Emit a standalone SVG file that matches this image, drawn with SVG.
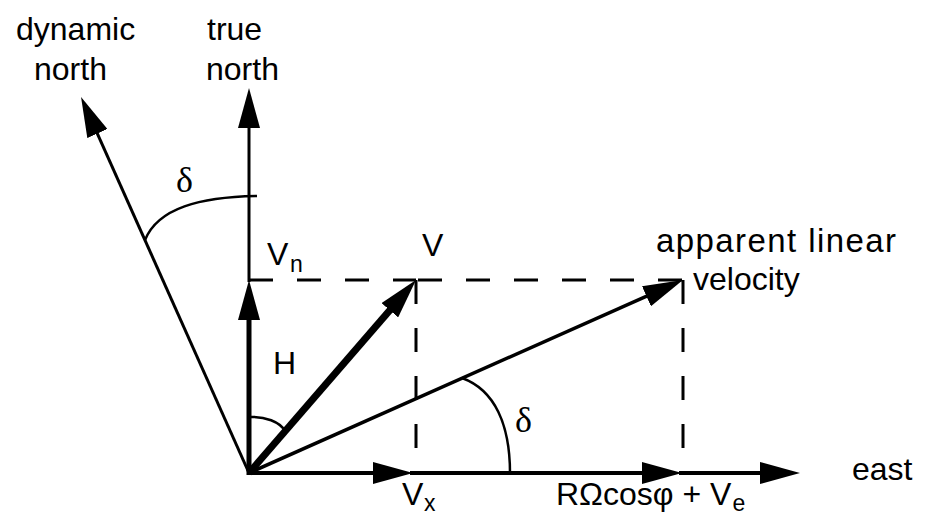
<svg xmlns="http://www.w3.org/2000/svg" width="927" height="518" viewBox="0 0 927 518">
<style>
.t{font-family:"Liberation Sans",Arial,sans-serif;font-size:32px;fill:#000}
.s{font-size:23px}
.g{font-family:"Liberation Serif","Times New Roman",serif;font-size:36px;fill:#000}
.ln{stroke:#000;fill:none;stroke-linecap:butt}
.d{stroke:#000;fill:none;stroke-width:3;stroke-dasharray:24 24}
.a{stroke:#000;fill:none;stroke-width:2.5}
</style>
<defs>
<marker id="ah" viewBox="0 0 40 22" refX="20" refY="11" markerWidth="40" markerHeight="22" markerUnits="userSpaceOnUse" orient="auto">
<path d="M0,0 L40,11 L0,22 z" fill="#000"/>
</marker>
</defs>
<rect width="927" height="518" fill="#fff"/>
<g id="connectors">
<line class="ln" x1="249" y1="473" x2="89.2" y2="115.3" stroke-width="3" marker-end="url(#ah)"/>
<line class="ln" x1="249" y1="282" x2="249" y2="108" stroke-width="3" marker-end="url(#ah)"/>
<line class="ln" x1="249" y1="475" x2="249" y2="300" stroke-width="5" marker-end="url(#ah)"/>
<line class="ln" x1="249" y1="473" x2="402.9" y2="295.1" stroke-width="7" marker-end="url(#ah)"/>
<line class="ln" x1="249" y1="473" x2="664.7" y2="288.1" stroke-width="3.5" marker-end="url(#ah)"/>
<line class="ln" x1="247" y1="473" x2="393" y2="473" stroke-width="4" marker-end="url(#ah)"/>
<line class="ln" x1="410" y1="473" x2="662" y2="473" stroke-width="4" marker-end="url(#ah)"/>
<line class="ln" x1="679" y1="473" x2="780" y2="473" stroke-width="4" marker-end="url(#ah)"/>
<line class="d" x1="249" y1="280" x2="416" y2="280"/>
<line class="d" x1="418" y1="280" x2="683" y2="280"/>
<line class="d" x1="416" y1="280" x2="416" y2="473"/>
<line class="d" x1="683" y1="280" x2="683" y2="473"/>
<path class="a" d="M145,240 C158,208 200,197 257,196"/>
<path class="a" d="M462,378 C495,390 510,425 510,473"/>
<path class="a" d="M249,417 C265,416 280,422 285,431"/>
</g>
<g id="dynamic-north"><text class="t" x="16" y="40">dynamic</text><text class="t" x="34" y="80">north</text></g>
<g id="true-north"><text class="t" x="207" y="40">true</text><text class="t" x="206" y="80">north</text></g>
<g id="delta-top"><text class="g" x="176" y="192">δ</text></g>
<g id="vn"><text class="t" x="267" y="265">V<tspan class="s" x="290" y="272">n</tspan></text></g>
<g id="v"><text class="t" x="422" y="256">V</text></g>
<g id="h"><text class="t" x="273" y="374">H</text></g>
<g id="delta-bottom"><text class="g" x="515" y="432">δ</text></g>
<g id="vx"><text class="t" x="402" y="505">V<tspan class="s" x="424" y="511">x</tspan></text></g>
<g id="ve"><text class="t" x="556" y="505">RΩcosφ + V<tspan class="s" dx="1" y="511">e</tspan></text></g>
<g id="east"><text class="t" x="852" y="480">east</text></g>
<g id="apparent"><text class="t" x="656" y="252" style="font-size:33px" textLength="240" lengthAdjust="spacing">apparent linear</text><text class="t" x="693" y="290">velocity</text></g>
</svg>
